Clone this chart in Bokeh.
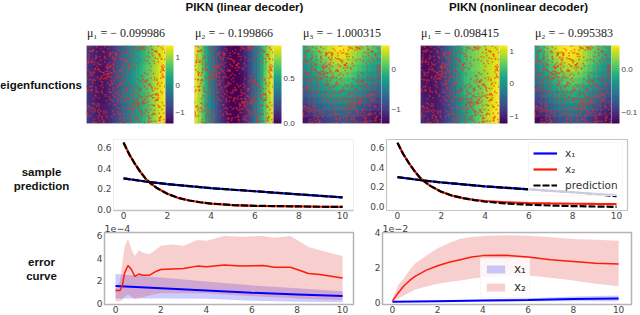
import numpy as np
from bokeh.document import Document
from bokeh.plotting import figure
from bokeh.layouts import row, column
from bokeh.models import (ColorBar, FixedTicker, Label, Legend, LegendItem,
                          LinearColorMapper, Range1d)
from bokeh.palettes import Viridis256
from bokeh.embed import file_html
from bokeh.resources import INLINE

field_1 = [
    [16,13,10,8,7,8,10,13,18,23,29,35,40,45,50,55,60,65,71,77,83,89,94,98],
    [14,11,8,6,5,6,9,14,20,26,32,38,43,48,53,58,63,68,73,79,85,90,95,99],
    [14,11,8,6,5,6,9,14,21,27,33,39,44,49,54,59,64,69,74,79,85,90,95,99],
    [15,12,9,7,6,7,9,13,18,24,30,36,41,46,51,56,61,66,71,77,83,89,94,98],
]
field_2 = [
    [95,85,73,61,50,40,30,21,13,7,3,1,1,3,6,12,20,29,39,50,61,73,85,95],
    [97,87,75,63,51,39,28,19,11,5,1,0,0,1,4,10,18,27,37,49,62,75,87,97],
    [95,85,73,61,50,40,30,21,13,7,3,1,1,3,6,12,20,29,39,50,61,73,85,95],
]
field_3 = [
    [5,9,13,16,19,22,24,25,25,23,20,16,12,9,5,3],
    [10,15,20,24,27,30,32,33,33,31,28,23,18,14,10,8],
    [17,22,27,31,35,38,40,41,41,39,36,31,26,21,17,14],
    [23,28,33,38,42,46,48,49,49,47,44,39,34,29,25,21],
    [29,34,40,45,49,53,56,57,57,55,51,46,41,36,32,28],
    [34,40,46,51,56,60,63,65,64,62,58,53,48,43,39,35],
    [39,45,51,57,62,67,70,72,71,69,64,59,54,49,45,41],
    [44,50,56,62,68,73,76,78,77,75,70,65,60,55,51,47],
    [49,55,61,67,73,78,82,84,83,80,76,71,66,61,57,53],
    [54,60,66,72,78,84,88,90,89,86,81,76,71,66,62,58],
    [58,64,70,77,83,89,93,96,95,91,86,81,76,71,67,63],
    [62,68,74,81,87,93,98,100,99,96,90,85,80,76,72,68],
]
field_4 = [
    [12,10,8,8,10,14,20,27,34,42,49,56,62,68,74,80,86,92,97,100],
    [10,8,7,7,9,14,21,28,36,45,53,60,65,70,75,80,85,91,96,100],
    [8,6,5,6,9,15,22,30,39,49,58,65,69,72,75,79,84,90,95,99],
    [7,5,5,6,10,16,24,32,42,52,60,67,71,74,77,81,85,90,94,98],
    [5,4,5,7,11,18,26,35,44,54,62,69,73,77,80,84,87,91,94,97],
    [4,4,5,8,13,20,28,37,46,55,63,70,75,79,82,86,89,92,94,96],
]
field_5 = [
    [3,7,12,17,21,25,28,30,29,27,23,18,13,9,6,4],
    [8,13,18,24,29,33,36,38,37,35,31,26,21,16,11,8],
    [14,19,25,31,36,41,44,46,45,43,39,34,28,23,18,14],
    [20,26,32,38,44,49,52,54,53,51,47,41,35,29,24,20],
    [26,32,38,45,51,56,60,62,61,58,54,48,42,36,30,26],
    [32,38,45,52,58,64,67,69,68,65,60,54,48,42,36,32],
    [38,44,51,58,65,70,74,76,75,72,67,61,54,48,42,38],
    [43,50,57,64,71,76,80,82,81,78,73,66,60,54,48,44],
    [48,55,62,70,77,83,87,88,87,84,78,72,65,59,53,48],
    [53,60,67,75,82,88,92,93,92,88,83,76,70,64,58,53],
    [57,64,72,80,87,93,97,98,96,92,86,80,74,68,63,58],
    [60,67,75,84,91,97,100,100,98,94,88,82,76,71,66,62],
]
field_low = [-1.40, 0.00, -1.35, -1.22, -0.127]
field_high = [1.45, 0.86, 0.60, 1.18, 0.058]
field_ticks = [[-1, 0, 1], [0.0, 0.5], [-1, 0], [-1, 0, 1], [-0.1, 0.0]]
field_tick_labels = [["−1", "0", "1"], ["0.0", "0.5"], ["−1", "0"], ["−1", "0", "1"], ["−0.1", "0.0"]]
mu_titles = ["μ₁ = − 0.099986", "μ₂ = − 0.199866", "μ₃ = − 1.000315",
             "μ₁ = − 0.098415", "μ₂ = − 0.995383"]
mu_centres = [125.5, 233.5, 341.5, 459.5, 573.5]

# ---------- sensor locations (percent of the square)
sensor_x = [3,41,77,12,58,92,27,66,8,49,85,33,71,19,96,54,2,38,81,24,63,10,47,89,30,74,16,57,94,36,
 69,6,44,83,21,60,98,13,51,79,28,65,4,42,87,18,55,91,34,72,9,46,82,25,61,97,15,52,76,31,
 68,1,39,86,22,59,93,11,48,78,35,64,7,43,88,20,56,95,29,73,5,40,84,17,62,99,14,50,75,32,
 67,26,45,90,23,53,80,37,70,0,43,85,12,59,28,94,66,7,50,77,19,36,88,62,3,47,73,24,97,55,
 10,40,81,30,69,16,58,91,35,75,5,48,84,21,64,96,13,52,78,27,60,8,44,89,33,71,18,56,93,38,
 2,65,83,25,49,74,11,42,87,31,61,98,15,54,79,22,67,6,46,90,36,70,20,57,95,29,63,9,41,82,
 26,51,76,14,39,86,34,68,4,47,92,23,59,80,17,53,99,32,72,1,45,88,28,62,12,37,75,55,94,19,
 66,7,43,84,30,58,97,24,50,78,10,35,69,3,48,91,21,64,83,16,41,73,56,8,33,87,27,60,95,13,
 46,79,38,67,5,52,89,22,71,18,44,93,31,63,0,57,81,25,40,76,11,49,96,34,68,15,54,85,29,74,
 6,42,90,20,61,36,77,9,51,98,26,65,14,47,82,32,70,2,58,92,23,39,86,17,55,72,4,45,80,30]
sensor_y = [88,12,63,35,94,21,71,4,52,43,80,16,97,60,27,75,9,38,49,83,24,66,6,55,90,31,18,72,41,58,
 2,79,29,95,46,14,68,85,33,7,61,22,92,51,37,76,11,99,44,26,65,83,3,57,19,70,40,91,10,30,
 54,74,96,23,13,86,48,1,64,39,78,28,15,59,93,5,47,69,34,82,62,20,42,56,8,73,25,100,17,50,
 36,67,87,45,98,32,77,60,11,27,53,3,84,40,72,66,19,92,30,55,9,81,38,46,22,74,13,58,95,35,
 5,28,68,90,43,14,49,79,24,97,63,7,33,57,85,18,41,71,2,52,26,94,12,37,76,61,48,86,21,64,
 99,31,44,16,80,54,70,6,29,89,39,59,10,75,23,3,42,65,34,83,91,15,50,1,73,25,96,56,36,47,
 8,62,27,78,20,93,69,45,17,4,88,58,32,51,11,75,82,40,96,13,67,30,60,22,46,84,35,71,9,54,
 28,43,6,87,74,18,61,37,90,50,25,66,14,79,41,33,2,57,95,69,1,48,77,20,85,12,63,31,52,98,
 39,10,73,24,56,44,92,16,34,81,68,4,55,26,47,89,7,72,42,15,83,29,60,36,97,0,50,23,78,65,
 93,19,38,53,70,11,86,32,46,5,74,21,58,99,35,64,27,43,82,13,91,48,17,67,8,30,56,76,2,40]

# ---------- sample prediction
pred_x2_t = [0, 0.25, 0.5, 0.75, 1, 1.25, 1.5, 2, 2.5, 3, 3.5, 4, 5, 6, 7, 8, 9, 10]
pred_x2 = [0.65, 0.54, 0.45, 0.37, 0.30, 0.25, 0.21, 0.15, 0.11, 0.085, 0.068, 0.055, 0.04, 0.033, 0.03, 0.027, 0.024, 0.022]
pred_x1_t = [0, 1, 2, 3, 4, 5, 6, 7, 8, 9, 10]
pred_x1 = [0.30, 0.27, 0.245, 0.225, 0.205, 0.19, 0.175, 0.16, 0.145, 0.13, 0.115]
pred_x2b = [0.65, 0.54, 0.45, 0.37, 0.30, 0.25, 0.21, 0.15, 0.11, 0.085, 0.065, 0.05, 0.03, 0.018, 0.01, 0.004, 0.0, -0.004]
pred_x2b_true = [0.65, 0.54, 0.45, 0.37, 0.30, 0.25, 0.21, 0.15, 0.11, 0.085, 0.068, 0.056, 0.042, 0.035, 0.031, 0.028, 0.026, 0.025]
pred_x1b = [0.30, 0.27, 0.245, 0.225, 0.205, 0.19, 0.175, 0.16, 0.145, 0.125, 0.105]

# ---------- error curve, left panel (units of 1e-4)
errL_t2 = [0, 0.1, 0.2, 0.3, 0.4, 0.55, 0.7, 0.85, 1.03, 1.2, 1.5, 1.8, 2, 2.5, 3, 3.6, 4, 4.8, 5.5, 6.5, 7, 7.7, 8, 8.5, 9, 10]
errL_x2 = [1.15, 1.15, 1.15, 1.6, 2.7, 3.35, 3.0, 2.4, 2.6, 2.5, 2.5, 2.85, 3.0, 3.05, 3.1, 3.3, 3.25, 3.4, 3.3, 3.35, 3.2, 3.2, 3.0, 2.65, 2.55, 2.25]
errL_x2_hi = [1.3, 1.5, 2.0, 3.6, 5.0, 5.75, 4.8, 4.2, 4.7, 4.5, 4.35, 4.8, 5.1, 5.2, 5.1, 5.6, 5.55, 5.95, 5.9, 5.95, 5.8, 5.95, 5.6, 5.0, 4.7, 4.2]
errL_x2_lo = [0.25, 0.2, 0.2, 0.3, 0.6, 0.8, 0.6, 0.4, 0.5, 0.55, 0.7, 0.85, 0.9, 0.9, 0.9, 0.9, 0.9, 0.8, 0.7, 0.6, 0.55, 0.5, 0.45, 0.4, 0.35, 0.3]
errL_t1 = [0, 2, 4, 6, 8, 10]
errL_x1 = [1.55, 1.35, 1.15, 0.95, 0.8, 0.65]
errL_x1_hi = [2.6, 2.3, 1.95, 1.6, 1.35, 1.08]
errL_x1_lo = [0.45, 0.45, 0.42, 0.25, 0.15, 0.1]

# ---------- error curve, right panel (units of 1e-2)
errR_t2 = [0, 0.25, 0.5, 0.75, 1, 1.5, 2, 2.5, 3, 3.5, 4, 5, 6, 7, 8, 9, 10]
errR_x2 = [0.1, 0.55, 0.95, 1.25, 1.5, 1.85, 2.1, 2.3, 2.45, 2.6, 2.68, 2.7, 2.6, 2.45, 2.35, 2.25, 2.2]
errR_x2_hi = [0.15, 1.0, 1.36, 1.85, 2.23, 2.68, 3.1, 3.4, 3.65, 3.75, 3.8, 3.85, 3.82, 3.73, 3.63, 3.58, 3.53]
errR_x2_lo = [0.05, 0.22, 0.4, 0.58, 0.74, 0.92, 1.07, 1.17, 1.26, 1.36, 1.45, 1.55, 1.55, 1.42, 1.26, 1.08, 0.93]
errR_t1 = [0, 2, 4, 6, 8, 10]
errR_x1 = [0.04, 0.08, 0.12, 0.15, 0.2, 0.23]
errR_x1_hi = [0.06, 0.12, 0.18, 0.25, 0.35, 0.4]
errR_x1_lo = [0.02, 0.04, 0.06, 0.07, 0.08, 0.08]

BLUE, RED = "#0000ff", "#ff1a0a"
TICK = "#444444"


def style_axes(p, x_ticks, y_ticks, y_labels):
    p.xaxis.ticker = FixedTicker(ticks=x_ticks)
    p.yaxis.ticker = FixedTicker(ticks=y_ticks)
    p.yaxis.major_label_overrides = y_labels
    p.xgrid.visible = False
    p.ygrid.visible = False
    for ax in (p.xaxis[0], p.yaxis[0]):
        ax.major_tick_line_color = None
        ax.minor_tick_line_color = None
        ax.major_tick_out = 0
        ax.major_tick_in = 0
        ax.minor_tick_out = 0
        ax.minor_tick_in = 0
        ax.axis_line_color = None
        ax.major_label_text_font = "DejaVu Sans"
        ax.major_label_text_font_size = "9px"
        ax.major_label_text_color = TICK
    p.xaxis[0].major_label_standoff = 1
    p.yaxis[0].major_label_standoff = 2


def field_panel(i, field, width, left, right, h=130, top=45):
    mapper = LinearColorMapper(palette=Viridis256, low=field_low[i], high=field_high[i])
    p = figure(width=width, height=h, x_range=Range1d(0, 100), y_range=Range1d(0, 100),
               min_border_left=left, min_border_right=right, min_border_top=top, min_border_bottom=h - top - 78,
               toolbar_location=None, output_backend="svg", x_axis_type=None, y_axis_type=None)
    p.grid.visible = False
    p.outline_line_color = "#d8dde0"
    values = field_low[i] + np.array(field, dtype=float) / 100 * (field_high[i] - field_low[i])
    p.image(image=[values], x=0, y=0, dw=100, dh=100, color_mapper=mapper)
    p.scatter(sensor_x + sensor_y, sensor_y + sensor_x, size=1.5, marker="square", color="#ff2a1a", alpha=0.65,
              line_color=None)
    cb = ColorBar(color_mapper=mapper, width=8, height=78, padding=0, margin=2, location=(0, 0),
                  ticker=FixedTicker(ticks=field_ticks[i]),
                  major_label_overrides=dict(zip(field_ticks[i], field_tick_labels[i])),
                  major_tick_line_color=None, minor_tick_line_color=None, bar_line_color=None,
                  label_standoff=2, major_label_text_font="Liberation Sans",
                  major_label_text_font_size="8px", major_label_text_color=TICK)
    p.add_layout(cb, "right")
    return p


def line_panel(width, h, left, right, top, bottom, xr, yr):
    return figure(width=width, height=h, x_range=Range1d(*xr), y_range=Range1d(*yr),
                  min_border_left=left, min_border_right=right, min_border_top=top, min_border_bottom=bottom,
                  toolbar_location=None, output_backend="svg")


# ---------- first row
f1 = field_panel(0, field_1, 190, 86, 25)
f2 = field_panel(1, field_2, 108, 4, 25)
f3 = field_panel(2, field_3, 118, 4, 35)
f4 = field_panel(3, field_4, 114, 4, 31)
f5 = field_panel(4, field_5, 110, 4, 27)

# ---------- second row
y_pred = {0: "0.0", 0.2: "0.2", 0.4: "0.4", 0.6: "0.6"}
xt = [0, 2, 4, 6, 8, 10]
a = line_panel(366, 92, 113, 13, 9, 12, (-0.457, 10.5), (-0.0127, 0.68))
style_axes(a, xt, [0, 0.2, 0.4, 0.6], y_pred)
a.outline_line_color = "#eeeeee"
a.xaxis[0].axis_line_color = "#c4c4c4"
a.xaxis[0].axis_line_width = 1.5
a.line(pred_x1_t, pred_x1, line_color=BLUE, line_width=2.2)
a.line(pred_x2_t, pred_x2, line_color=RED, line_width=2.2)
a.line(pred_x1_t, pred_x1, line_color="black", line_width=2.2, line_dash="7 2")
a.line(pred_x2_t, pred_x2, line_color="black", line_width=2.2, line_dash="7 2")

b = line_panel(274, 92, 20, 13, 9, 12, (-0.5, 10.5), (-0.041, 0.683))
style_axes(b, xt, [0, 0.2, 0.4, 0.6], y_pred)
b.outline_line_color = "#c4c4c4"
b.outline_line_width = 1.2
l1 = b.line(pred_x1_t, pred_x1, line_color=BLUE, line_width=2.2)
l2 = b.line(pred_x2_t, pred_x2b_true, line_color=RED, line_width=2.2)
b.line(pred_x1_t, pred_x1b, line_color="black", line_width=2.2, line_dash="7 2")
l3 = b.line(pred_x2_t, pred_x2b, line_color="black", line_width=2.2, line_dash="7 2")
leg = Legend(items=[LegendItem(label="x₁", renderers=[l1]), LegendItem(label="x₂", renderers=[l2]),
                    LegendItem(label="prediction", renderers=[l3])],
             location=(142, 14), glyph_width=24, glyph_height=12, label_height=12, spacing=4, padding=4, margin=0,
             label_standoff=8, background_fill_alpha=0.8, border_line_color="#eeeeee",
             label_text_font="DejaVu Sans", label_text_font_size="10.5px", label_text_color="#333333")
b.add_layout(leg, "center")

# ---------- third row
c = line_panel(366, 93, 104, 13, 10, 11, (-0.485, 10.48), (-0.09, 6.27))
style_axes(c, xt, [0, 2, 4, 6], {0: "0", 2: "2", 4: "4", 6: "6"})
c.outline_line_color = "#b5b5b5"
c.outline_line_width = 1.5
c.varea(errL_t1, errL_x1_lo, errL_x1_hi, fill_color=BLUE, fill_alpha=0.2)
c.varea(errL_t2, errL_x2_lo, errL_x2_hi, fill_color="#dd1111", fill_alpha=0.2)
c.line(errL_t1, errL_x1, line_color=BLUE, line_width=2)
c.line(errL_t2, errL_x2, line_color=RED, line_width=1.5)

d = line_panel(274, 93, 16, 9, 10, 11, (-0.44, 10.57), (-0.11, 4.0))
style_axes(d, xt, [0, 2, 4], {0: "0", 2: "2", 4: "4"})
d.outline_line_color = "#b5b5b5"
d.outline_line_width = 1.5
r1 = d.varea(errR_t1, errR_x1_lo, errR_x1_hi, fill_color=BLUE, fill_alpha=0.2)
r2 = d.varea(errR_t2, errR_x2_lo, errR_x2_hi, fill_color="#dd1111", fill_alpha=0.2)
d.line(errR_t1, errR_x1, line_color=BLUE, line_width=2)
d.line(errR_t2, errR_x2, line_color=RED, line_width=1.5)
leg2 = Legend(items=[LegendItem(label="x₁", renderers=[r1]), LegendItem(label="x₂", renderers=[r2])],
              location=(98, 6), glyph_width=23, glyph_height=10, label_height=12, label_width=12, spacing=4,
              padding=3, margin=0, label_standoff=7, background_fill_alpha=0.8, border_line_color="#eeeeee",
              label_text_font="DejaVu Sans", label_text_font_size="12px", label_text_color="#333333")
d.add_layout(leg2, "center")

root = column(row(f1, f2, f3, f4, f5, spacing=0), row(a, b, spacing=0), row(c, d, spacing=0),
              spacing=0, styles={"position": "absolute", "left": "0px", "top": "0px"})

# ---------- transparent page-wide layer that carries the headings and row labels
overlay = figure(width=640, height=315, x_range=Range1d(0, 640), y_range=Range1d(315, 0),
                 min_border=0, toolbar_location=None, output_backend="svg",
                 x_axis_type=None, y_axis_type=None, background_fill_color=None, border_fill_color=None,
                 styles={"position": "absolute", "left": "0px", "top": "0px"})
overlay.grid.visible = False
overlay.outline_line_color = None


def text(x, y, s, size, bold=False, font="Liberation Sans", align="center", color="#111111"):
    overlay.add_layout(Label(x=x, y=y, text=s, text_font=font, text_font_size=size,
                             text_font_style="bold" if bold else "normal",
                             text_align=align, text_baseline="middle", text_color=color))


text(244, 6, "PIKN (linear decoder)", "11.6px", bold=True)
text(518, 6, "PIKN (nonlinear decoder)", "11.6px", bold=True)
text(40.5, 84, "eigenfunctions", "11.5px", bold=True)
text(41, 171, "sample", "11.5px", bold=True)
text(41, 185, "prediction", "11.5px", bold=True)
text(41, 261, "error", "11.5px", bold=True)
text(41, 275, "curve", "11.5px", bold=True)
text(104, 228, "1e−4", "9.5px", font="DejaVu Sans", align="left", color=TICK)
text(382, 228, "1e−2", "9.5px", font="DejaVu Sans", align="left", color=TICK)
for cx, s in zip(mu_centres, mu_titles):
    text(cx, 32, s, "12px", font="Liberation Serif", color="#222222")

doc = Document()
doc.add_root(root)
doc.add_root(overlay)
open("out.html", "w").write(file_html(doc, INLINE))
